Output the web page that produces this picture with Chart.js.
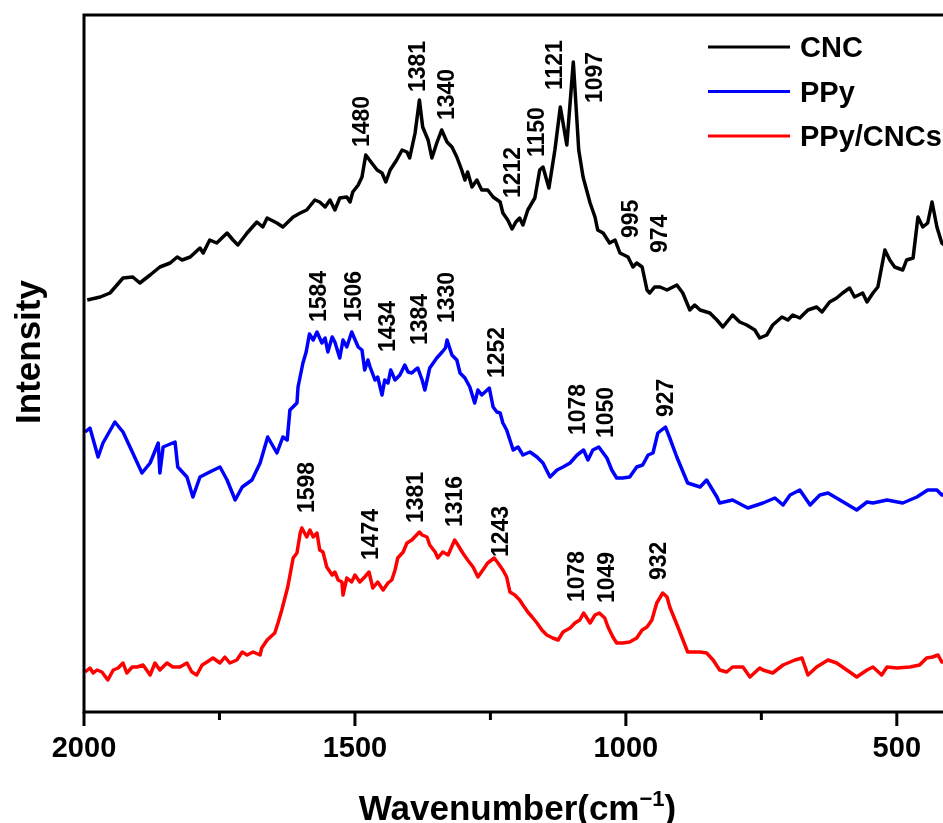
<!DOCTYPE html>
<html>
<head>
<meta charset="utf-8">
<script src="https://cdn.jsdelivr.net/npm/chart.js@4"></script>
<style>
  html, body { margin: 0; padding: 0; background: #fff; overflow: hidden; }
  #wrap { width: 960px; height: 823px; }
</style>
</head>
<body>
<div id="wrap"><canvas id="raman"></canvas></div>
<script>
// Raman spectra, wavenumber (cm-1) vs intensity (a.u., traces offset vertically)
const cncWave = [1994,1970,1952,1928,1910,1897,1878,1860,1841,1828,1819,1804,1786,1780,1768,1755,1736,1725,1716,1699,
  1681,1670,1662,1644,1633,1614,1601,1589,1574,1565,1555,1546,1537,1528,1515,1509,1504,1494,1487,1480,
  1469,1459,1450,1443,1435,1423,1413,1404,1399,1389,1381,1375,1365,1358,1349,1340,1330,1321,1312,1303,
  1297,1292,1284,1275,1266,1255,1245,1232,1227,1218,1210,1203,1196,1190,1181,1168,1159,1153,1142,1131,
  1121,1109,1097,1087,1079,1066,1057,1052,1042,1030,1020,1011,996,987,980,970,961,956,947,937,
  924,906,895,882,873,863,845,832,821,803,790,777,762,753,740,729,712,701,692,679,
  664,648,638,624,611,600,587,578,563,555,544,535,522,513,504,489,482,470,461,452,
  443,435,426,417,402];
const cncInt = [412,415,419,434,435,429,437,445,449,455,452,455,464,459,472,469,479,472,467,479,
  490,485,494,489,485,495,499,502,512,510,505,512,502,514,515,510,520,527,535,557,
  549,542,539,530,542,552,562,560,554,579,612,585,572,554,569,582,570,565,555,542,
  532,540,525,532,522,522,515,510,499,492,483,490,494,487,502,514,542,545,524,562,
  605,567,650,562,535,509,495,482,479,469,472,459,455,445,449,445,422,419,425,425,
  422,427,419,402,407,402,399,392,385,397,390,387,382,374,377,387,395,392,397,394,
  402,405,400,410,414,419,424,415,419,410,419,425,462,452,445,442,452,454,495,485,
  489,510,485,469,462];

const ppyWave = [1998,1989,1974,1965,1943,1928,1910,1893,1878,1863,1860,1854,1832,1827,1810,1799,1786,1768,1749,1736,
  1721,1708,1690,1675,1661,1644,1633,1625,1620,1607,1605,1596,1590,1584,1577,1570,1561,1555,1550,1542,
  1537,1528,1522,1515,1506,1494,1487,1482,1476,1472,1463,1458,1450,1445,1439,1434,1426,1417,1408,1402,
  1395,1389,1384,1376,1371,1362,1349,1339,1333,1330,1321,1312,1306,1297,1288,1279,1273,1266,1256,1252,
  1245,1238,1232,1227,1220,1214,1208,1199,1190,1177,1164,1153,1140,1127,1116,1103,1090,1078,1070,1061,
  1050,1035,1026,1017,1006,993,980,969,959,950,941,927,919,906,886,863,851,832,827,803,
  775,758,747,725,710,697,679,660,642,627,605,574,555,544,518,489,463,443,426,417,
  402];
const ppyInt = [280,284,255,269,290,280,259,239,249,269,239,265,270,245,235,215,235,240,245,232,
  212,225,232,249,275,259,275,272,302,309,325,349,360,378,372,380,369,374,360,375,
  370,354,372,365,380,365,362,342,352,345,332,335,317,332,329,342,332,337,347,340,
  339,342,344,332,322,344,354,360,364,372,357,352,339,334,325,309,322,317,322,324,
  305,300,299,289,282,272,262,265,257,260,255,249,235,242,245,249,257,262,252,262,
  265,254,242,234,234,235,245,247,257,259,279,285,274,255,229,225,232,215,209,212,
  204,207,209,214,207,217,222,207,217,219,212,202,210,209,212,209,215,222,222,217,
  220];

const mixWave = [1998,1989,1983,1976,1967,1956,1946,1937,1928,1921,1911,1902,1891,1878,1869,1860,1847,1836,1823,1810,
  1801,1792,1782,1773,1762,1749,1740,1731,1718,1708,1699,1688,1675,1672,1662,1656,1648,1642,1635,1624,
  1614,1607,1601,1598,1589,1583,1577,1570,1565,1559,1552,1542,1537,1531,1524,1522,1515,1506,1500,1491,
  1482,1474,1467,1458,1448,1439,1432,1426,1421,1411,1404,1395,1381,1376,1367,1362,1352,1347,1338,1328,
  1316,1310,1301,1292,1282,1273,1264,1255,1243,1236,1227,1220,1214,1205,1196,1190,1181,1173,1164,1155,
  1146,1135,1125,1116,1103,1094,1085,1078,1066,1057,1049,1039,1033,1024,1017,1006,993,980,970,961,
  952,943,932,924,919,904,886,863,851,839,827,814,803,784,771,753,747,729,710,688,
  675,664,648,627,611,587,574,555,544,528,518,500,476,458,445,434,424,417,402];
const mixInt = [40,44,39,42,40,32,42,44,49,39,45,45,47,37,49,42,49,45,45,49,
  40,37,47,50,54,49,55,49,52,60,57,60,57,64,72,75,79,89,102,125,
  154,159,179,184,175,182,175,179,162,160,145,137,140,132,130,117,134,130,137,130,
  135,140,124,130,122,129,132,142,154,160,169,172,180,177,175,167,160,154,160,157,
  172,167,159,152,145,135,142,149,154,149,142,135,120,117,112,107,100,95,89,82,
  77,74,72,80,84,89,92,99,89,97,99,94,85,75,69,69,70,74,82,85,
  92,109,119,115,105,85,60,60,59,52,42,40,45,45,35,44,42,39,47,52,
  54,37,45,52,49,40,35,42,45,37,45,44,45,47,54,55,57,50,52];

const seriesNames = ["CNC", "PPy", "PPy/CNCs"];
const seriesColors = ["#000000", "#0000ff", "#ff0000"];

const xTicks = [2000, 1500, 1000, 500];
const xMinorTicks = [1750, 1250, 750];

// peak labels: text, and where the label foot sits (wavenumber, intensity)
const peakLabels = [
  { text: "1480", x: 1485, y: 565 }, { text: "1381", x: 1382, y: 620 },
  { text: "1340", x: 1328, y: 592 }, { text: "1212", x: 1208, y: 514 },
  { text: "1150", x: 1162, y: 555 }, { text: "1121", x: 1129, y: 622 },
  { text: "1097", x: 1055, y: 609 }, { text: "995", x: 989, y: 474 },
  { text: "974", x: 935, y: 459 },
  { text: "1584", x: 1565, y: 390 }, { text: "1506", x: 1500, y: 390 },
  { text: "1434", x: 1437, y: 360 }, { text: "1384", x: 1378, y: 367 },
  { text: "1330", x: 1328, y: 389 }, { text: "1252", x: 1236, y: 334 },
  { text: "1078", x: 1087, y: 277 }, { text: "1050", x: 1035, y: 274 },
  { text: "927", x: 924, y: 295 },
  { text: "1598", x: 1587, y: 199 }, { text: "1474", x: 1469, y: 152 },
  { text: "1381", x: 1386, y: 189 }, { text: "1316", x: 1315, y: 185 },
  { text: "1243", x: 1229, y: 155 }, { text: "1078", x: 1089, y: 110 },
  { text: "1049", x: 1033, y: 109 }, { text: "932", x: 937, y: 132 }
];

const FONT = "'Liberation Sans', Arial, sans-serif";

function toPoints(xs, ys) {
  return xs.map((x, i) => ({ x: x, y: ys[i] }));
}

const waves = [cncWave, ppyWave, mixWave];
const ints = [cncInt, ppyInt, mixInt];

// frame, tick marks, titles, legend and peak labels
const decorations = {
  id: "decorations",
  afterDraw(chart) {
    const ctx = chart.ctx;
    const area = chart.chartArea;
    const xs = chart.scales.x;
    const ys = chart.scales.y;

    ctx.save();
    ctx.strokeStyle = "#000";
    ctx.lineWidth = 3;
    ctx.strokeRect(area.left, area.top, area.right - area.left, area.bottom - area.top);

    // outward tick marks
    ctx.beginPath();
    xTicks.forEach(v => {
      const px = xs.getPixelForValue(v);
      ctx.moveTo(px, area.bottom);
      ctx.lineTo(px, area.bottom + 14);
    });
    xMinorTicks.forEach(v => {
      const px = xs.getPixelForValue(v);
      ctx.moveTo(px, area.bottom);
      ctx.lineTo(px, area.bottom + 8);
    });
    ctx.stroke();

    ctx.fillStyle = "#000";

    // peak labels, rotated
    ctx.font = "bold 23px " + FONT;
    ctx.textAlign = "left";
    ctx.textBaseline = "middle";
    peakLabels.forEach(l => {
      ctx.save();
      ctx.translate(xs.getPixelForValue(l.x), ys.getPixelForValue(l.y));
      ctx.rotate(-Math.PI / 2);
      ctx.fillText(l.text, 0, 0);
      ctx.restore();
    });

    // legend
    ctx.font = "bold 29px " + FONT;
    chart.data.datasets.forEach((ds, i) => {
      const ly = area.top + 32 + i * 44.5;
      ctx.strokeStyle = ds.borderColor;
      ctx.lineWidth = 3;
      ctx.beginPath();
      ctx.moveTo(area.left + 624, ly);
      ctx.lineTo(area.left + 706, ly);
      ctx.stroke();
      ctx.fillText(ds.label, area.left + 716, ly + 2);
    });

    // y title
    ctx.font = "bold 35px " + FONT;
    ctx.textAlign = "center";
    ctx.save();
    ctx.translate(30, area.top + 337);
    ctx.rotate(-Math.PI / 2);
    ctx.fillText("Intensity", 0, 0);
    ctx.restore();

    // x title with superscript
    ctx.textBaseline = "alphabetic";
    ctx.textAlign = "left";
    const main = "Wavenumber(cm";
    const sup = "\u22121";
    const close = ")";
    const bigFont = "bold 35px " + FONT;
    const supFont = "bold 22px " + FONT;
    ctx.font = bigFont;
    const wMain = ctx.measureText(main).width;
    const wClose = ctx.measureText(close).width;
    ctx.font = supFont;
    const wSup = ctx.measureText(sup).width;
    const total = wMain + wSup + wClose;
    let tx = (area.left + area.right) / 2 - total / 2;
    const base = area.bottom + 108;
    ctx.font = bigFont;
    ctx.fillText(main, tx, base);
    tx += wMain;
    ctx.font = supFont;
    ctx.fillText(sup, tx, base - 14);
    tx += wSup;
    ctx.font = bigFont;
    ctx.fillText(close, tx, base);
    ctx.restore();
  }
};

new Chart(document.getElementById("raman"), {
  type: "line",
  data: {
    datasets: seriesNames.map((name, i) => ({
      label: name,
      data: toPoints(waves[i], ints[i]),
      borderColor: seriesColors[i],
      borderWidth: 3.5,
      borderJoinStyle: "round",
      pointRadius: 0,
      tension: 0,
      fill: false
    }))
  },
  options: {
    responsive: true,
    maintainAspectRatio: false,
    animation: false,
    layout: { padding: { top: 15, right: 9, left: 0, bottom: 0 } },
    plugins: {
      legend: { display: false },
      tooltip: { enabled: false }
    },
    scales: {
      x: {
        type: "linear",
        reverse: true,
        min: 400,
        max: 2000,
        afterBuildTicks: s => { s.ticks = xTicks.map(v => ({ value: v })); },
        afterFit: s => { s.height = 111; },
        grid: { display: false, drawTicks: false },
        border: { display: false },
        ticks: {
          color: "#000",
          font: { family: FONT, size: 29, weight: "bold" },
          padding: 20,
          maxRotation: 0,
          autoSkip: false,
          callback: v => String(v)
        }
      },
      y: {
        min: 0,
        max: 697,
        afterFit: s => { s.width = 84; },
        grid: { display: false, drawTicks: false },
        border: { display: false },
        ticks: { display: false }
      }
    }
  },
  plugins: [decorations]
});
</script>
</body>
</html>
